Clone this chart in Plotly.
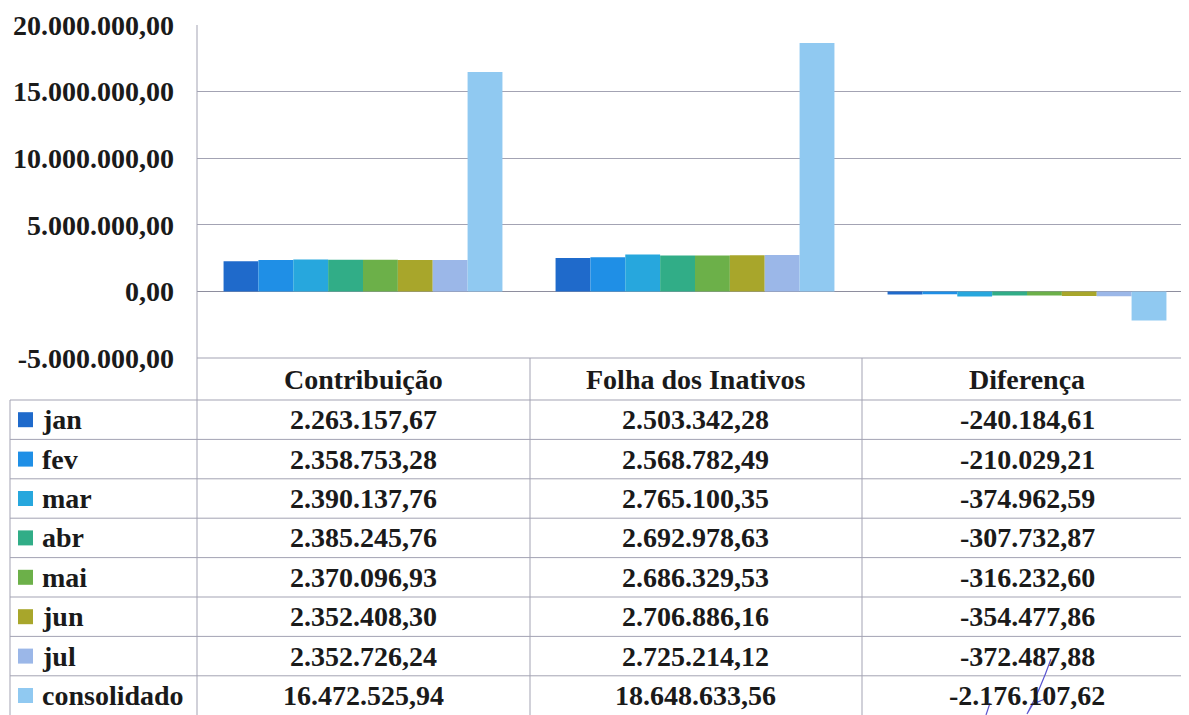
import plotly.graph_objects as go

categorias = ["Contribuição", "Folha dos Inativos", "Diferença"]
meses = ["jan", "fev", "mar", "abr", "mai", "jun", "jul", "consolidado"]
contribuicao = [2263157.67, 2358753.28, 2390137.76, 2385245.76,
                2370096.93, 2352408.30, 2352726.24, 16472525.94]
folha = [2503342.28, 2568782.49, 2765100.35, 2692978.63,
         2686329.53, 2706886.16, 2725214.12, 18648633.56]
diferenca = [-240184.61, -210029.21, -374962.59, -307732.87,
             -316232.60, -354477.86, -372487.88, -2176107.62]
y_ticks = [-5000000, 0, 5000000, 10000000, 15000000, 20000000]

cores = ["#1f6acb", "#1f8fe6", "#27a7dd", "#31ad87",
         "#6cb049", "#a8a62b", "#9bb7e8", "#90c9f1"]

# the page body adds an 8px margin; positions below are in screenshot pixels
OFF = 8
W, H = 1189, 715
L, T, B = 197, 25, 358           # plot area
R = W + OFF                      # plot runs past the right edge of the window
ROW_TOP, ROW_H = 400, 39.4
COL_PX = 332
FONT = "Liberation Serif"
LINE = "#a3a3b3"


def xp(px):
    return (px - L) / (R - L)


def yp(py):
    return (B - py) / (B - T)


def fmt(v):
    s = f"{v:,.2f}"
    return s.replace(",", "#").replace(".", ",").replace("#", ".")


fig = go.Figure()
for i, mes in enumerate(meses):
    vals = [contribuicao[i], folha[i], diferenca[i]]
    fig.add_trace(go.Bar(x=categorias, y=vals, name=mes,
                         marker=dict(color=cores[i], line=dict(width=0))))

shapes = []
# vertical line of the axis down through the table
shapes.append(dict(type="line", xref="paper", yref="paper",
                   x0=0, x1=0, y0=1, y1=yp(H), line=dict(color=LINE, width=1)))
# table top line (header)
shapes.append(dict(type="line", xref="paper", yref="paper",
                   x0=0, x1=1, y0=0, y1=0, line=dict(color=LINE, width=1)))
# row lines
for r in range(len(meses)):
    y = yp(ROW_TOP + r * ROW_H)
    shapes.append(dict(type="line", xref="paper", yref="paper",
                       x0=xp(10), x1=1, y0=y, y1=y, line=dict(color=LINE, width=1)))
shapes.append(dict(type="line", xref="paper", yref="paper",
                   x0=xp(10), x1=xp(10), y0=yp(ROW_TOP), y1=yp(H),
                   line=dict(color=LINE, width=1)))
for c in (1, 2):
    x = xp(L + c * COL_PX + 1)
    shapes.append(dict(type="line", xref="paper", yref="paper",
                       x0=x, x1=x, y0=0, y1=yp(H), line=dict(color=LINE, width=1)))
# legend keys
for r, cor in enumerate(meses):
    cy = ROW_TOP + (r + 0.5) * ROW_H
    shapes.append(dict(type="rect", xref="paper", yref="paper",
                       x0=xp(18), x1=xp(33), y0=yp(cy - 7.5), y1=yp(cy + 7.5),
                       fillcolor=cores[r], line=dict(width=0)))
# pen mark over the last value
shapes.append(dict(type="path", xref="paper", yref="paper",
                   path=f"M {xp(1051)},{yp(659)} Q {xp(1040)},{yp(690)} {xp(1027)},{yp(714)} "
                        f"L {xp(1033)},{yp(704)} L {xp(1045)},{yp(699)}",
                   line=dict(color="#5a55d0", width=1.2)))
shapes.append(dict(type="line", xref="paper", yref="paper",
                   x0=xp(990), x1=xp(986), y0=yp(703), y1=yp(715),
                   line=dict(color="#5a55d0", width=1.2)))

annotations = []
txt_font = dict(family=FONT, size=28, color="#1a1a1a", weight="bold")
for c, cat in enumerate(categorias):
    annotations.append(dict(x=cat, xref="x", y=yp((B + ROW_TOP) / 2), yref="paper",
                            text=cat, showarrow=False, font=txt_font,
                            xanchor="center", yanchor="middle"))
for r, mes in enumerate(meses):
    y = yp(ROW_TOP + (r + 0.5) * ROW_H)
    annotations.append(dict(x=xp(40), xref="paper", y=y, yref="paper",
                            text=mes, showarrow=False, font=txt_font,
                            xanchor="left", yanchor="middle"))
    for cat, serie in zip(categorias, (contribuicao, folha, diferenca)):
        annotations.append(dict(x=cat, xref="x", y=y, yref="paper",
                                text=fmt(serie[r]), showarrow=False, font=txt_font,
                                xanchor="center", yanchor="middle"))

fig.update_layout(
    width=W, height=H - OFF,
    margin=dict(l=L - OFF, r=0, t=T - OFF, b=H - B, pad=0),
    paper_bgcolor="white", plot_bgcolor="white",
    barmode="group", bargap=0.16, bargroupgap=0,
    showlegend=False,
    shapes=shapes, annotations=annotations,
    xaxis=dict(range=[-0.5, -0.5 + (R - L) / COL_PX], showticklabels=False,
               showgrid=False, zeroline=False, showline=False, automargin=False),
    yaxis=dict(range=[-5000000, 20000000], tickvals=y_ticks,
               ticktext=[fmt(v) for v in y_ticks], automargin=False,
               showgrid=True, gridcolor=LINE, gridwidth=1,
               zeroline=True, zerolinecolor="#8e8e9e", zerolinewidth=1,
               showline=False, ticks="", ticklabelstandoff=22,
               tickfont=dict(family=FONT, size=28, color="#1a1a1a", weight="bold")),
)

fig.write_html("out.html")
